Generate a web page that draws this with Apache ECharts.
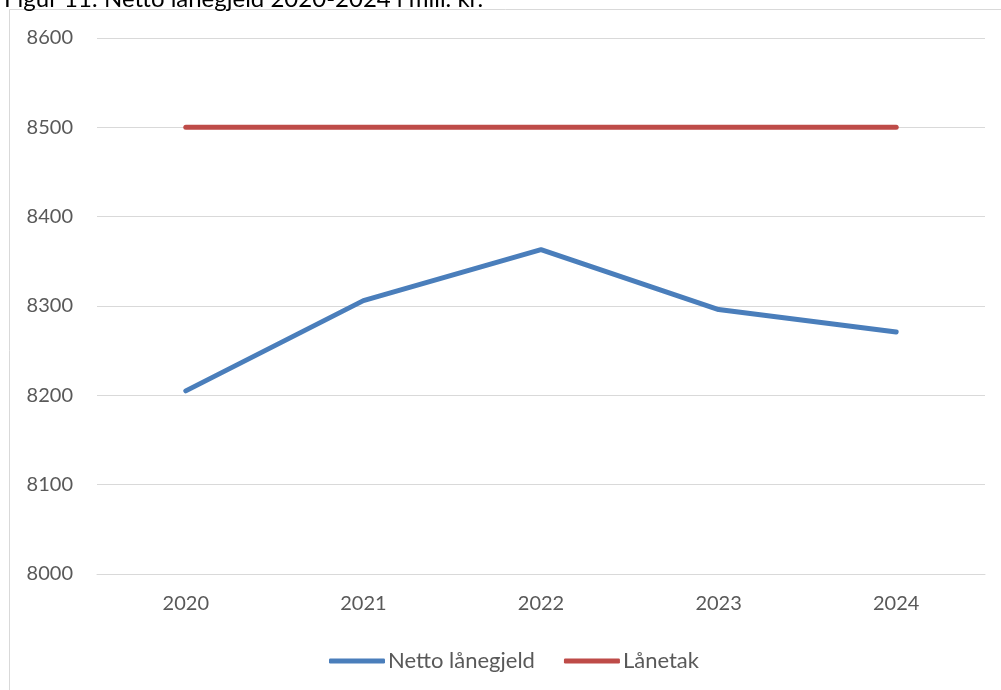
<!DOCTYPE html>
<html>
<head>
<meta charset="utf-8">
<script src="https://cdn.jsdelivr.net/npm/echarts@6/dist/echarts.min.js"></script>
<style>
html, body { margin: 0; padding: 0; background: #fff; }
#main { width: 1001px; height: 690px; }
</style>
</head>
<body>
<div id="main"></div>
<script>
// data
var years = ['2020', '2021', '2022', '2023', '2024'];
var nettoLanegjeld = [8205, 8306, 8363, 8296, 8271];
var lanetak = [8500, 8500, 8500, 8500, 8500];
var yTicks = { min: 8000, max: 8600, interval: 100 };

var chart = echarts.init(document.getElementById('main'));
var fontFam = 'Lato, "Open Sans", sans-serif';

chart.setOption({
  animation: false,
  textStyle: { fontFamily: fontFam },
  graphic: [
    {
      // chart frame
      type: 'rect',
      shape: { x: 9.5, y: 9.5, width: 1100, height: 800 },
      style: { fill: 'none', stroke: '#d9d9d9', lineWidth: 1 }
    },
    {
      // caption, cut off at the top of the picture
      type: 'text',
      x: 4,
      y: 11,
      style: {
        text: 'Figur 11: Netto lånegjeld 2020-2024 i mill. kr.',
        font: '24px ' + fontFam,
        fill: '#000',
        verticalAlign: 'bottom'
      }
    }
  ],
  grid: { left: 97, right: 16, top: 38, bottom: 116 },
  legend: {
    left: 324,
    top: 645,
    itemWidth: 56,
    itemHeight: 5,
    itemGap: 29,
    icon: 'roundRect',
    textStyle: { fontSize: 22, color: '#595959', padding: [0, 0, 0, -2] },
    data: ['Netto lånegjeld', 'Lånetak']
  },
  xAxis: {
    type: 'category',
    data: years,
    boundaryGap: true,
    axisLine: { lineStyle: { color: '#d9d9d9', width: 1 } },
    axisTick: { show: false },
    axisLabel: { fontSize: 20, color: '#595959', margin: 20 }
  },
  yAxis: {
    type: 'value',
    min: yTicks.min,
    max: yTicks.max,
    interval: yTicks.interval,
    axisLine: { show: false },
    axisTick: { show: false },
    splitLine: { lineStyle: { color: '#d9d9d9', width: 1 } },
    axisLabel: {
      fontSize: 20,
      color: '#595959',
      margin: 24,
      formatter: function (v) { return String(v); }
    }
  },
  series: [
    {
      name: 'Netto lånegjeld',
      type: 'line',
      data: nettoLanegjeld,
      symbol: 'none',
      color: '#4a7ebb',
      lineStyle: { width: 5, color: '#4a7ebb', cap: 'round', join: 'round' }
    },
    {
      name: 'Lånetak',
      type: 'line',
      data: lanetak,
      symbol: 'none',
      color: '#be4b48',
      lineStyle: { width: 5, color: '#be4b48', cap: 'round', join: 'round' }
    }
  ]
});
</script>
</body>
</html>
